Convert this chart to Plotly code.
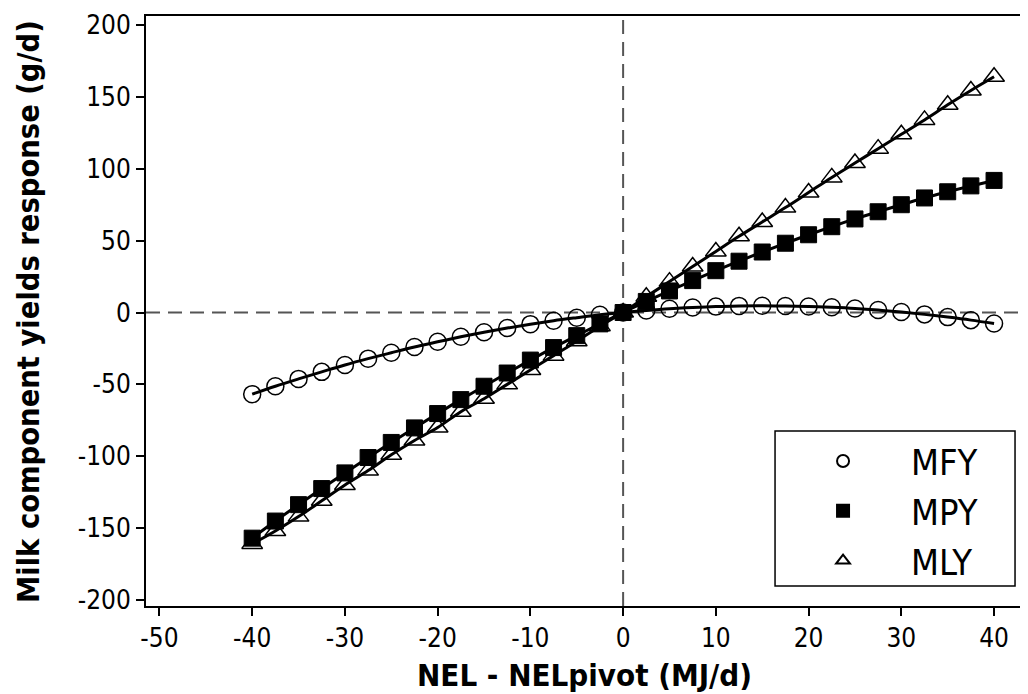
import plotly.graph_objects as go

x_vals = [-40, -37.5, -35, -32.5, -30, -27.5, -25, -22.5, -20, -17.5, -15, -12.5, -10, -7.5, -5, -2.5,
          0, 2.5, 5, 7.5, 10, 12.5, 15, 17.5, 20, 22.5, 25, 27.5, 30, 32.5, 35, 37.5, 40]

mfy = [-56.8, -51.3, -46.2, -41.3, -36.5, -32.1, -28.0, -24.0, -20.4, -16.9, -13.7, -10.8, -8.1, -5.7, -3.6, -1.6,
       0.0, 1.4, 2.6, 3.5, 4.1, 4.6, 4.7, 4.5, 4.2, 3.6, 2.8, 1.7, 0.3, -1.3, -3.2, -5.3, -7.7]

mpy = [-157.0, -145.1, -133.7, -122.5, -111.6, -100.9, -90.4, -80.3, -70.3, -60.6, -51.3, -42.1, -33.1, -24.4, -16.1, -7.9,
       0.0, 7.7, 15.0, 22.2, 29.1, 35.7, 42.1, 48.2, 54.1, 59.7, 65.1, 70.1, 75.0, 79.7, 84.0, 88.1, 91.9]

mly = [-161.0, -152.0, -142.0, -131.0, -120.0, -110.0, -99.0, -89.0, -80.0, -69.0, -60.0, -50.0, -40.0, -30.0, -20.0, -9.5,
       0.0, 11.0, 21.5, 32.0, 42.5, 53.0, 63.0, 73.0, 83.5, 94.0, 104.0, 114.0, 124.0, 134.0, 144.5, 154.5, 164.0]

x_ticks = [-50, -40, -30, -20, -10, 0, 10, 20, 30, 40]
y_ticks = [-200, -150, -100, -50, 0, 50, 100, 150, 200]

x_title = "NEL - NELpivot (MJ/d)"
y_title = "Milk component yields response (g/d)"

FONT = "DejaVu Sans Condensed, DejaVu Sans, sans-serif"

fig = go.Figure()

series = [
    ("MLY", mly, dict(symbol="triangle-up", size=18, color="white", line=dict(color="black", width=1.5)), 3),
    ("MPY", mpy, dict(symbol="square", size=16, color="black", line=dict(color="black", width=1)), 2),
    ("MFY", mfy, dict(symbol="circle-open", size=17, color="black", line=dict(color="black", width=1.5)), 1),
]

for name, vals, mk, rank in series:
    fig.add_trace(go.Scatter(x=x_vals, y=vals, mode="markers", marker=mk, name=name,
                             legendrank=rank, showlegend=True))
    fig.add_trace(go.Scatter(x=x_vals, y=vals, mode="lines", line=dict(color="black", width=3, shape="spline"),
                             showlegend=False, hoverinfo="skip"))

# dashed zero reference lines
fig.add_shape(type="line", xref="x", yref="paper", x0=0, x1=0, y0=0, y1=1,
              line=dict(color="#555555", width=2, dash="14px,8px"), layer="below")
fig.add_shape(type="line", xref="paper", yref="y", x0=0, x1=1, y0=0, y1=0,
              line=dict(color="#555555", width=2, dash="14px,8px"), layer="below")
# legend frame
fig.add_shape(type="rect", xref="paper", yref="paper", x0=0.7132, x1=0.9853, y0=0.0339, y1=0.2964,
              line=dict(color="black", width=1.5), fillcolor="white", layer="above")

# axis titles
fig.add_annotation(text="<b>" + x_title + "</b>", xref="paper", yref="paper", x=0.4977, y=-0.1168,
                   xanchor="center", yanchor="middle", showarrow=False,
                   font=dict(family=FONT, size=31, color="black"))
fig.add_annotation(text="<b>" + y_title + "</b>", xref="paper", yref="paper", x=-0.1338, y=0.5,
                   xanchor="center", yanchor="middle", textangle=-90, showarrow=False,
                   font=dict(family=FONT, size=30.5, color="black"))

fig.update_layout(
    width=1020, height=686,
    margin=dict(l=138, r=0, t=7.5, b=88),
    paper_bgcolor="white", plot_bgcolor="white",
    font=dict(family=FONT, color="black", size=26),
    showlegend=True,
    legend=dict(
        x=0.7132, y=0.2964, xanchor="left", yanchor="top",
        borderwidth=0, bgcolor="rgba(0,0,0,0)",
        font=dict(family=FONT, size=36, color="black"),
        itemsizing="constant", itemwidth=126,
    ),
    xaxis=dict(
        range=[-51.45, 43.66], tickvals=x_ticks, ticktext=[str(v) for v in x_ticks],
        showgrid=False, zeroline=False, showline=True, linecolor="black", linewidth=2,
        mirror=True, ticks="outside", ticklen=8, tickwidth=1.5, tickcolor="black",
        tickfont=dict(family=FONT, size=26), automargin=False,
    ),
    yaxis=dict(
        range=[-204.2, 206.3], tickvals=y_ticks, ticktext=[str(v) for v in y_ticks],
        showgrid=False, zeroline=False, showline=True, linecolor="black", linewidth=2,
        ticks="outside", ticklen=8, tickwidth=1.5, tickcolor="black",
        tickfont=dict(family=FONT, size=26), automargin=False,
    ),
)

fig.write_html("out.html")
